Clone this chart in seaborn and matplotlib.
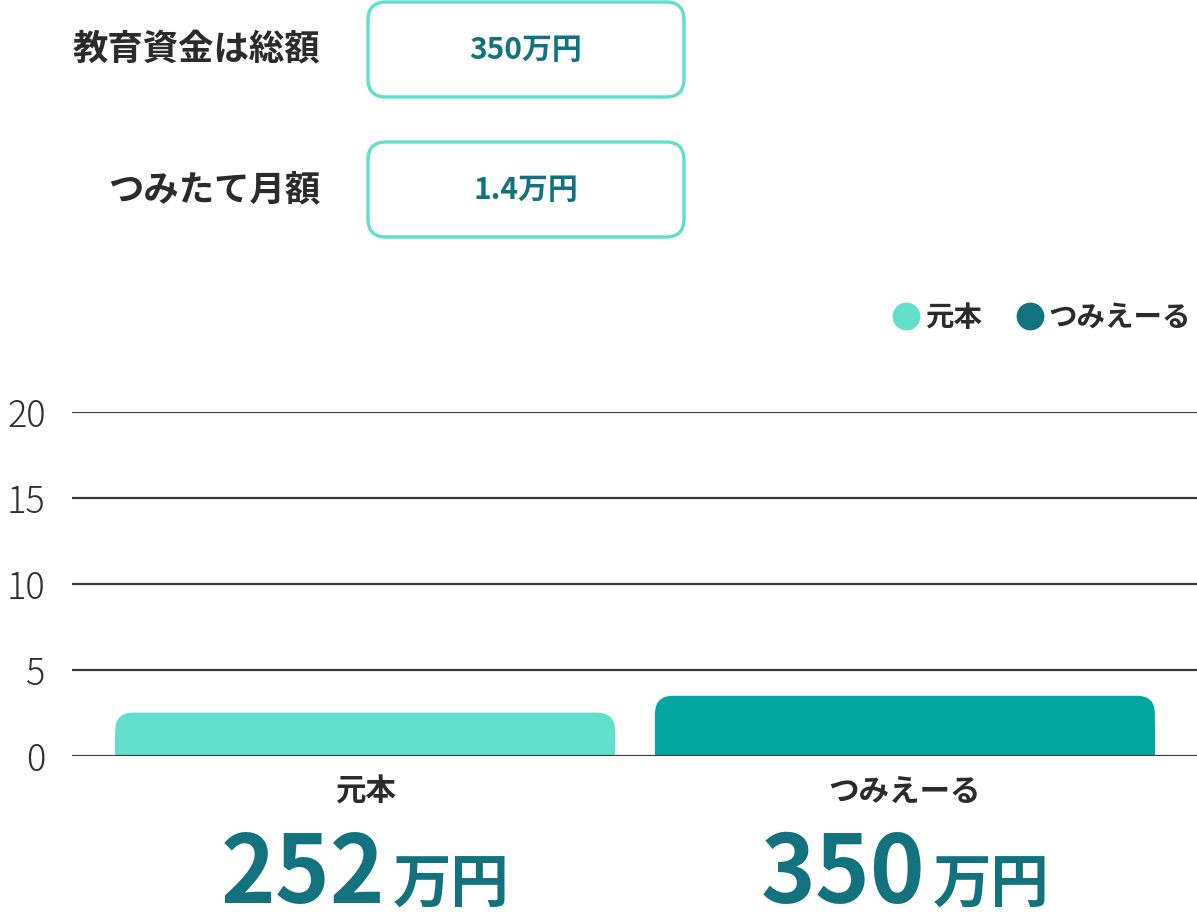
import numpy as np
import pandas as pd
import matplotlib
matplotlib.use("Agg")
import matplotlib.pyplot as plt
import seaborn as sns
from matplotlib.patches import FancyBboxPatch, Rectangle, BoxStyle
from matplotlib.lines import Line2D

# ---- data ----
categories = ["元本", "つみえーる"]
values = [2.52, 3.5]
bar_colors = ["#62DFCB", "#02A69F"]
legend_colors = ["#62DFCB", "#12737F"]
amount_numbers = ["252", "350"]
amount_unit = "万円"
y_ticks = [0, 5, 10, 15, 20]
input_labels = ["教育資金は総額", "つみたて月額"]
input_values = ["350万円", "1.4万円"]

DARK = "#12737F"
TEXT = "#2b2b2b"

sns.set_theme(style="white")
plt.rcParams["font.family"] = ["Noto Sans CJK JP", "DejaVu Sans"]

W, H = 1197, 921
fig = plt.figure(figsize=(W / 100, H / 100), dpi=100)
ax = fig.add_axes([72 / W, 1 - 756 / H, 1 - 72 / W, (756 - 412) / H])

df = pd.DataFrame({"cat": categories, "val": values})
sns.barplot(data=df, x="cat", y="val", hue="cat", palette=bar_colors,
            width=0.926, legend=False, ax=ax, saturation=1)

ax.set_xlim(-0.543, 1.541)
ax.set_ylim(0, 20)
ax.set_yticks(y_ticks)
ax.set_xlabel("")
ax.set_ylabel("")
sns.despine(ax=ax, left=True, bottom=True)
ax.yaxis.grid(True, color="#3c3c3c", linewidth=1.6)
ax.xaxis.grid(False)
ax.set_axisbelow(False)
ax.tick_params(axis="y", length=0, pad=19, labelsize=26, labelcolor="#2f2f2f")
ax.tick_params(axis="x", length=0, pad=14, labelsize=22, labelcolor=TEXT)
for t in ax.get_yticklabels():
    t.set_fontweight("light")
for t in ax.get_xticklabels():
    t.set_fontweight("bold")

# rounded bar tops, geometry taken from seaborn's bars
ax_w_px = ax.get_position().width * W
ax_h_px = ax.get_position().height * H
px_per_x = ax_w_px / (ax.get_xlim()[1] - ax.get_xlim()[0])
px_per_y = ax_h_px / (ax.get_ylim()[1] - ax.get_ylim()[0])
r_px = 18
rx = r_px / px_per_x
aspect = (r_px / px_per_y) / rx
for p in list(ax.patches):
    x, w, h = p.get_x(), p.get_width(), p.get_height()
    fc = p.get_facecolor()
    p.set_visible(False)
    ax.add_patch(FancyBboxPatch((x, 0), w, h,
                                boxstyle=BoxStyle.Round(pad=0, rounding_size=rx),
                                mutation_aspect=aspect, fc=fc, ec="none", zorder=1.5))
    ax.add_patch(Rectangle((x, 0), w, h / 2, fc=fc, ec="none", zorder=1.5))

# overlay in pixel coordinates
ov = fig.add_axes([0, 0, 1, 1], zorder=-1)
ov.set_xlim(0, W)
ov.set_ylim(H, 0)
ov.axis("off")

box_tops = [2, 142]
for lab, val, top in zip(input_labels, input_values, box_tops):
    ov.add_patch(FancyBboxPatch((368, top), 316, 95,
                                boxstyle=BoxStyle.Round(pad=0, rounding_size=18),
                                fc="white", ec="#62DFCB", lw=2.4))
    cy = top + 48
    ov.text(320, cy, lab, ha="right", va="center", fontsize=25.5,
            fontweight="bold", color=TEXT)
    ov.text(526, cy, val, ha="center", va="center", fontsize=21.5,
            fontweight="bold", color=DARK)

# legend
handles = [Line2D([], [], marker="o", ls="", markersize=19,
                  markerfacecolor=c, markeredgecolor=c) for c in legend_colors]
leg = fig.legend(handles, categories, loc="center right",
                 bbox_to_anchor=(1217 / W, 1 - 318 / H), ncol=2, frameon=False,
                 handletextpad=0.15, columnspacing=1.2, handlelength=1.0,
                 prop=dict(size=20.5, weight="bold"))
for t in leg.get_texts():
    t.set_color(TEXT)

# big amounts under bars
fig.canvas.draw()
renderer = fig.canvas.get_renderer()
for i, num in enumerate(amount_numbers):
    cx = ax.transData.transform((i, 0))[0]
    t1 = ov.text(0, 903, num, ha="left", va="baseline", fontsize=67,
                 fontweight="bold", color=DARK)
    t2 = ov.text(0, 903, amount_unit, ha="left", va="baseline", fontsize=42,
                 fontweight="bold", color=DARK)
    w1 = t1.get_window_extent(renderer).width
    w2 = t2.get_window_extent(renderer).width
    gap = 8
    start = cx - (w1 + gap + w2) / 2
    t1.set_x(start)
    t2.set_x(start + w1 + gap)

fig.savefig("out.png", dpi=100)
